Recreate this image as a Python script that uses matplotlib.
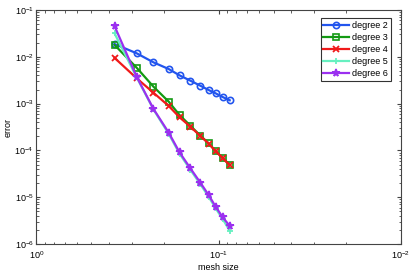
import matplotlib
matplotlib.use("Agg")
import matplotlib.pyplot as plt
from matplotlib.ticker import LogLocator, NullFormatter

mesh_size = [0.373, 0.282, 0.228, 0.188, 0.164, 0.143, 0.126, 0.1135, 0.104, 0.095, 0.087]

err_deg2 = [0.0188, 0.0119, 0.00762, 0.00548, 0.00402, 0.00309, 0.00241, 0.00195, 0.00166, 0.00138, 0.00118]
err_deg3 = [0.0180, 0.00585, 0.00230, 0.00110, 0.00057, 0.000337, 0.000206, 0.000142, 9.7e-5, 6.9e-5, 4.9e-5]
err_deg4 = [0.0095, 0.00348, 0.00171, 0.00089, 0.00051, 0.000321, 0.000203, 0.000140, 9.6e-5, 6.8e-5, 4.8e-5]
err_deg5 = [0.0318, 0.00365, 0.00075, 0.000225, 8.5e-5, 3.85e-5, 1.88e-5, 1.02e-5, 5.8e-6, 3.4e-6, 1.92e-6]
err_deg6 = [0.0455, 0.00376, 0.00077, 0.000239, 9.1e-5, 4.14e-5, 2.04e-5, 1.11e-5, 6.3e-6, 3.72e-6, 2.43e-6]

labels = ["degree 2", "degree 3", "degree 4", "degree 5", "degree 6"]
colors = ["#2255ee", "#139a13", "#f01a1a", "#66f0c0", "#9b30f0"]
markers = ["o", "s", "x", "+", "*"]

plt.rcParams['font.family'] = ['Liberation Sans', 'DejaVu Sans']

fig = plt.figure(figsize=(4.16, 2.71), dpi=100)
ax = fig.add_axes([0.0877, 0.0996, 0.876, 0.8634])

series = [err_deg2, err_deg3, err_deg4, err_deg5, err_deg6]
for ys, lab, c, m in zip(series, labels, colors, markers):
    kw = dict(color=c, lw=1.6, marker=m, label=lab)
    if m in ("o", "s"):
        kw.update(markerfacecolor="none", markersize=4.5, markeredgewidth=1.2)
    elif m == "*":
        kw.update(markersize=5.5, markeredgewidth=1.2)
    else:
        kw.update(markersize=5, markeredgewidth=1.3)
    ax.loglog(mesh_size, ys, **kw)

ax.set_xlim(1, 0.01)
ax.set_ylim(1e-6, 1e-1)
ax.tick_params(which="both", direction="in", top=True, right=True, labelsize=6.5, color="#444444")
ax.tick_params(axis="x", pad=4)
ax.tick_params(axis="y", pad=2)
ax.tick_params(which="major", length=3)
ax.tick_params(which="minor", length=1.8)
ax.xaxis.set_major_locator(LogLocator(base=10, numticks=10))
ax.yaxis.set_major_locator(LogLocator(base=10, numticks=10))
ax.xaxis.set_minor_locator(LogLocator(base=10, subs=range(2, 10), numticks=10))
ax.yaxis.set_minor_locator(LogLocator(base=10, subs=range(2, 10), numticks=10))
ax.xaxis.set_minor_formatter(NullFormatter())
ax.yaxis.set_minor_formatter(NullFormatter())
for s in ax.spines.values():
    s.set_color("#444444")
    s.set_linewidth(0.8)

ax.set_xlabel("mesh size", fontsize=6.5, labelpad=1)
ax.set_ylabel("error", fontsize=6.5, labelpad=1)

leg = ax.legend(loc="upper right", fontsize=6.5, frameon=True, fancybox=False,
                edgecolor="black", borderpad=0.3, labelspacing=0.35, handlelength=2.8,
                handletextpad=0.4, bbox_to_anchor=(0.985, 0.985))
leg.get_frame().set_linewidth(0.8)

fig.savefig("out.png", dpi=100)
